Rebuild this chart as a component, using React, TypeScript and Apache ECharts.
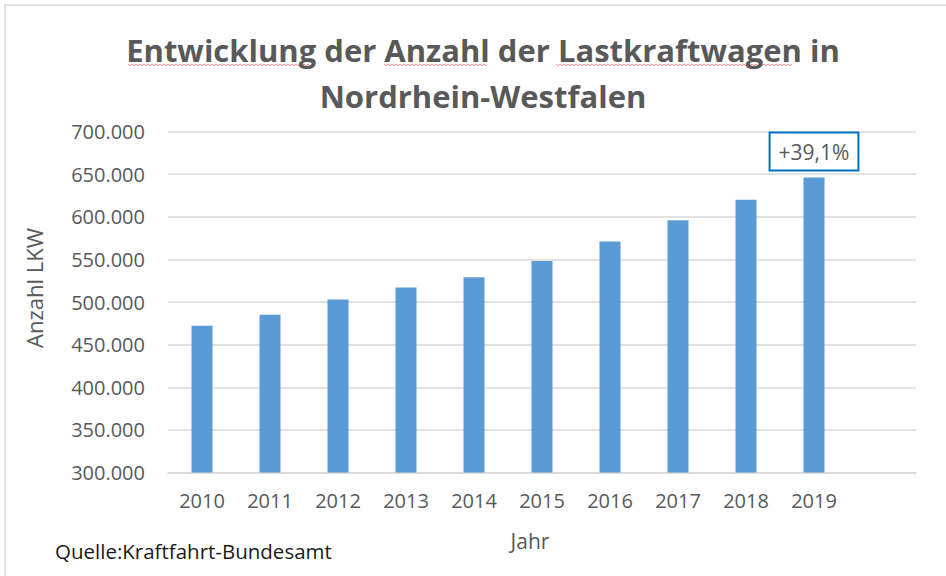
import React, { useEffect, useRef } from "react";
import * as echarts from "echarts";

const years = ["2010", "2011", "2012", "2013", "2014", "2015", "2016", "2017", "2018", "2019", ""];
const lkwCounts: (number | null)[] = [472000, 485000, 503000, 517000, 529000, 548000, 571000, 596000, 620000, 646000, null];
const growthLabel = "+39,1%";
const yTicks = { min: 300000, max: 700000, interval: 50000 };

const TEXT = "#595959";
const FONT = "Open Sans";

function squiggle(x0: number, x1: number, y: number) {
  const pts: number[][] = [];
  let up = true;
  for (let x = x0; x <= x1; x += 2) {
    pts.push([x, up ? y - 0.8 : y + 0.8]);
    up = !up;
  }
  return {
    type: "polyline",
    shape: { points: pts },
    style: { stroke: "#F08080", lineWidth: 0.9, fill: "none" },
    silent: true,
  };
}

export default function App() {
  const ref = useRef<HTMLDivElement>(null);
  useEffect(() => {
    document.body.style.margin = "0";
    const chart = echarts.init(ref.current!, null, { renderer: "svg" });
    const data = lkwCounts.map((v, i) =>
      i === 9
        ? {
            value: v,
            label: {
              show: true,
              position: "top",
              distance: 8,
              formatter: growthLabel,
              color: TEXT,
              fontFamily: FONT,
              fontSize: 21,
              backgroundColor: "#ffffff",
              borderColor: "#0070C0",
              borderWidth: 2,
              padding: [8, 8, 7, 8],
            },
          }
        : v
    );
    chart.setOption({
      animation: false,
      backgroundColor: "#ffffff",
      title: {
        text: "Entwicklung der Anzahl der Lastkraftwagen in\nNordrhein-Westfalen",
        left: 478,
        top: 22,
        textAlign: "center",
        textStyle: {
          color: TEXT,
          fontFamily: FONT,
          fontWeight: "bold",
          fontSize: 31,
          lineHeight: 46,
        },
      },
      grid: { left: 168, right: 30, top: 131.5, bottom: 103.5 },
      xAxis: {
        type: "category",
        data: years,
        name: "Jahr",
        nameLocation: "middle",
        nameGap: 58,
        nameTextStyle: { color: TEXT, fontFamily: FONT, fontSize: 21, padding: [0, 24, 0, 0] },
        axisLine: { lineStyle: { color: "#D9D9D9", width: 1.5 } },
        axisTick: { show: false },
        axisLabel: { color: TEXT, fontFamily: FONT, fontSize: 20, margin: 18 },
      },
      yAxis: {
        type: "value",
        min: yTicks.min,
        max: yTicks.max,
        interval: yTicks.interval,
        axisLine: { show: false },
        axisTick: { show: false },
        splitLine: { lineStyle: { color: "#D9D9D9", width: 1.5 } },
        axisLabel: {
          color: TEXT,
          fontFamily: FONT,
          fontSize: 20,
          margin: 23,
          formatter: (v: number) => v.toLocaleString("de-DE"),
        },
      },
      series: [
        {
          type: "bar",
          data,
          barWidth: 21,
          itemStyle: { color: "#5B9BD5" },
        },
      ],
      graphic: [
        {
          type: "rect",
          shape: { x: 5, y: 5, width: 960, height: 600 },
          style: { fill: "none", stroke: "#D9D9D9", lineWidth: 1.5 },
          silent: true,
        },
        {
          type: "text",
          x: 34,
          y: 288,
          rotation: Math.PI / 2,
          style: {
            text: "Anzahl LKW",
            fill: TEXT,
            font: `22px "${FONT}"`,
            textAlign: "center",
            textVerticalAlign: "middle",
          },
          silent: true,
        },
        {
          type: "text",
          left: 55,
          top: 540,
          style: { text: "Quelle:Kraftfahrt-Bundesamt", fill: "#1a1a1a", font: `20.5px "${FONT}"` },
        },
        squiggle(128, 314, 65),
        squiggle(384, 487, 65),
        squiggle(556, 793, 65),
      ],
    });
    return () => chart.dispose();
  }, []);
  return <div ref={ref} style={{ position: "fixed", left: 0, top: 0, width: 946, height: 576 }} />;
}
